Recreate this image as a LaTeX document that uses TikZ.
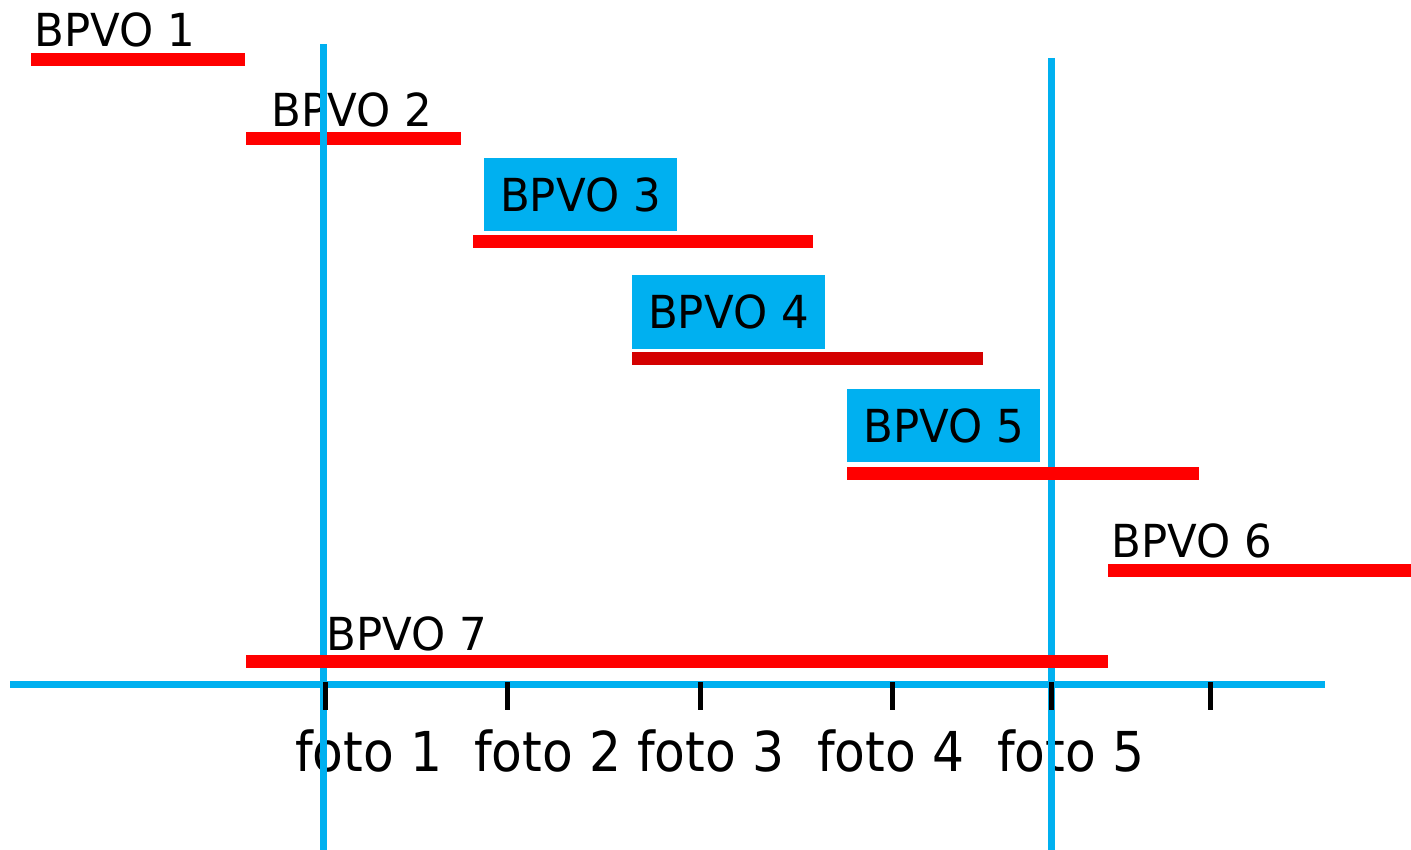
\documentclass[tikz,border=0pt]{standalone}
\usepackage{fontspec}
\setmainfont{DejaVu Sans}
\newfontfamily\bpvofont[FakeStretch=0.955]{DejaVu Sans}
\newfontfamily\fotofont[FakeStretch=0.915]{DejaVu Sans}
\definecolor{pblue}{HTML}{00B0F0}
\definecolor{pred}{HTML}{FF0000}
\definecolor{dred}{HTML}{D40000}
\begin{document}
\begin{tikzpicture}[x=1pt,y=-1pt,
  bar/.style={pred, line width=13pt},
  vline/.style={pblue, line width=7pt},
  axisline/.style={pblue, line width=7pt},
  tickmark/.style={black, line width=5pt},
  lbl/.style={anchor=base west, inner sep=0pt, font=\bpvofont\fontsize{45.5}{50}\selectfont},
  lblbox/.style={fill=pblue, minimum width=193pt, minimum height=73pt, inner sep=0pt, font=\bpvofont\fontsize{45.5}{50}\selectfont},
  foto/.style={anchor=base west, inner sep=0pt, font=\fotofont\fontsize{55}{60}\selectfont}]
\useasboundingbox (0,0) rectangle (1411,850);

% bars
\coordinate (b1a) at (31,60);   \coordinate (b1b) at (245,60);
\coordinate (b2a) at (246,139); \coordinate (b2b) at (461,139);
\coordinate (b3a) at (473,242); \coordinate (b3b) at (813,242);
\coordinate (b4a) at (632,358); \coordinate (b4b) at (983,358);
\coordinate (b5a) at (847,473); \coordinate (b5b) at (1199,473);
\coordinate (b6a) at (1108,570); \coordinate (b6b) at (1411,570);
\coordinate (b7a) at (246,661); \coordinate (b7b) at (1108,661);

\draw[bar] (b1a) -- (b1b);
\draw[bar] (b2a) -- (b2b);
\draw[bar] (b3a) -- (b3b);
\draw[bar, dred] (b4a) -- (b4b);
\draw[bar] (b6a) -- (b6b);

% labels
\node[lbl] (t1) at (34,47) {BPVO 1};
\node[lbl] (t2) at (271,127) {BPVO 2};
\node[lblbox] (t3) at (580.5,194.5) {BPVO 3};
\node[lblbox] (t4) at (728.5,312) {BPVO 4};
\node[lblbox] (t5) at (943.5,425.5) {BPVO 5};
\node[lbl] (t6) at (1111,557) {BPVO 6};
\node[lbl] (t7) at (326,650) {BPVO 7};

% foto labels
\node[foto] (f1) at (295,771) {foto 1};
\node[foto] (f2) at (474,771) {foto 2};
\node[foto] (f3) at (637,771) {foto 3};
\node[foto] (f4) at (817,771) {foto 4};
\node[foto] (f5) at (997,771) {foto 5};

% axis
\coordinate (axA) at (10,684);
\coordinate (axB) at (1325,684);
\draw[axisline] (axA) -- (axB);

% vertical lines
\coordinate (v1a) at (323,44);  \coordinate (v1b) at (323,850);
\coordinate (v2a) at (1051,58); \coordinate (v2b) at (1051,850);
\draw[vline] (v1a) -- (v1b);
\draw[vline] (v2a) -- (v2b);

% ticks
\foreach \x/\n in {325/k1,507/k2,700/k3,892/k4,1051/k5,1210/k6}{
  \coordinate (\n a) at (\x,682);
  \coordinate (\n b) at (\x,710);
  \draw[tickmark] (\n a) -- (\n b);
}

% bars on top of the vertical lines
\draw[bar] (b5a) -- (b5b);
\draw[bar] (b7a) -- (b7b);
\end{tikzpicture}
\end{document}
